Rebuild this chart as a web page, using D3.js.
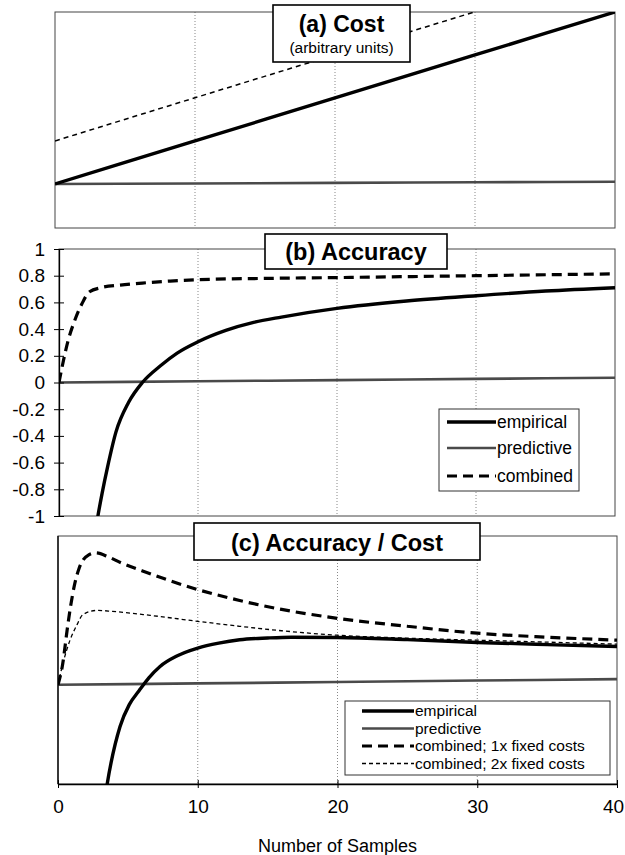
<!DOCTYPE html>
<html>
<head>
<meta charset="utf-8">
<script src="https://cdn.jsdelivr.net/npm/d3@7"></script>
<style>
  body { margin: 0; background: #fff; }
  text { font-family: "Liberation Sans", Arial, Helvetica, sans-serif; }
</style>
</head>
<body>
<div class="svg_area"></div>
<script>
// Chart size
var svgWidth = 625;
var svgHeight = 855;

// ---- data ----
// x ticks shared by all panels
var sampleTicks = [0, 10, 20, 30, 40];
var gridTicks = [10, 20, 30];

// (a) Cost, arbitrary units
var costN = [0, 10, 20, 30, 40];
var costEmpirical = [20.4, 40.3, 60.2, 80.1, 100];
var costPredictive = [20.4, 20.6, 20.9, 21.2, 21.4];
var costCombined = [40.3, 60.3, 80.2, 100.1, 120];

// (b) Accuracy
var accTicks = [-1, -0.8, -0.6, -0.4, -0.2, 0, 0.2, 0.4, 0.6, 0.8, 1];
var accEmpN = [2.5, 2.8, 3.1, 3.5, 4.1, 5, 6, 7.3, 8.5, 10, 12, 14, 16, 20, 25, 30, 35, 40];
var accEmpirical = [-1.2, -1, -0.83, -0.63, -0.37, -0.15, 0, 0.125, 0.22, 0.305, 0.39, 0.45, 0.49, 0.555, 0.61, 0.65, 0.685, 0.71];
var accPredN = [0, 10, 20, 30, 40];
var accPredictive = [0, 0.009, 0.018, 0.027, 0.036];
var accCombN = [0, 0.23, 0.67, 1.1, 1.65, 2.2, 3, 4.4, 6, 8, 10, 15, 20, 25, 30, 35, 40];
var accCombined = [0, 0.12, 0.32, 0.456, 0.59, 0.68, 0.71, 0.73, 0.745, 0.76, 0.77, 0.78, 0.786, 0.793, 0.8, 0.807, 0.814];

// (c) Accuracy / Cost (no y labels in the original)
var ratioEmpN = [3.2, 3.52, 4.44, 5.1, 5.8, 6.5, 7.3, 8.5, 10, 11.5, 13, 15, 16.7, 20, 25, 30, 35, 40];
var ratioEmpirical = [-1.3, -1, -0.42, -0.2, -0.06, 0.07, 0.185, 0.29, 0.37, 0.42, 0.454, 0.472, 0.48, 0.477, 0.455, 0.427, 0.405, 0.386];
var ratioPredN = [0, 10, 20, 30, 40];
var ratioPredictive = [0, 0.014, 0.028, 0.043, 0.057];
var ratioComb1N = [0, 0.3, 0.7, 0.9, 1.2, 1.5, 1.8, 2.2, 2.7, 3.6, 4.5, 6, 8, 10, 13, 16, 20, 25, 30, 35, 40];
var ratioComb1 = [0, 0.18, 0.6, 0.79, 1.02, 1.17, 1.26, 1.31, 1.33, 1.29, 1.23, 1.15, 1.05, 0.96, 0.85, 0.76, 0.67, 0.59, 0.52, 0.48, 0.45];
var ratioComb2N = [0, 0.36, 0.86, 1.34, 1.8, 2.8, 3.9, 6.6, 10, 13, 16, 20, 25, 30, 35, 40];
var ratioComb2 = [0, 0.22, 0.45, 0.6, 0.71, 0.75, 0.74, 0.7, 0.64, 0.59, 0.545, 0.5, 0.47, 0.45, 0.43, 0.41];

var legendB = ["empirical", "predictive", "combined"];
var legendC = ["empirical", "predictive", "combined; 1x fixed costs", "combined; 2x fixed costs"];

// line styles
var styles = {
  empirical: { stroke: "#000", width: 3.4, dash: null },
  predictive: { stroke: "#4a4a4a", width: 2.6, dash: null },
  combinedA: { stroke: "#000", width: 1.5, dash: "5,4" },
  combined: { stroke: "#000", width: 3.2, dash: "10,6" },
  combined2: { stroke: "#000", width: 1.3, dash: "4,3" }
};

var svg = d3.select(".svg_area")
  .append("svg")
  .attr("width", svgWidth)
  .attr("height", svgHeight);

var defs = svg.append("defs");

function zip(xs, ys) {
  return xs.map(function(x, i) { return [x, ys[i]]; });
}

// set up one panel: scales, clip, grid, frame
function makePanel(id, left, right, top, bottom, yDomain) {
  var p = {};
  p.x = d3.scaleLinear().domain([0, 40]).range([left, right]);
  p.y = d3.scaleLinear().domain(yDomain).range([bottom, top]);
  p.top = top; p.bottom = bottom; p.left = left; p.right = right;

  defs.append("clipPath").attr("id", "clip-" + id)
    .append("rect")
    .attr("x", left).attr("y", top)
    .attr("width", right - left).attr("height", bottom - top);

  // dotted grid lines
  svg.append("g").selectAll("line")
    .data(gridTicks)
    .enter()
    .append("line")
    .attr("x1", d => p.x(d)).attr("x2", d => p.x(d))
    .attr("y1", top).attr("y2", bottom)
    .attr("stroke", "#888")
    .attr("stroke-width", 1)
    .attr("stroke-dasharray", "1,2");

  // thin frame
  svg.append("rect")
    .attr("x", left).attr("y", top)
    .attr("width", right - left).attr("height", bottom - top)
    .attr("fill", "none")
    .attr("stroke", "#444")
    .attr("stroke-width", 1);

  p.lines = svg.append("g").attr("clip-path", "url(#clip-" + id + ")");
  return p;
}

function drawLine(p, pts, st) {
  var line = d3.line()
    .x(d => p.x(d[0]))
    .y(d => p.y(d[1]))
    .curve(d3.curveMonotoneX);
  p.lines.append("path")
    .datum(pts)
    .attr("d", line)
    .attr("fill", "none")
    .attr("stroke", st.stroke)
    .attr("stroke-width", st.width)
    .attr("stroke-dasharray", st.dash);
}

function titleBox(x, y, w, h, lines) {
  svg.append("rect")
    .attr("x", x).attr("y", y).attr("width", w).attr("height", h)
    .attr("fill", "#fff").attr("stroke", "#000").attr("stroke-width", 1.6);
  lines.forEach(function(l) {
    svg.append("text")
      .attr("x", x + w / 2).attr("y", l.y)
      .attr("text-anchor", "middle")
      .attr("font-size", l.size)
      .attr("font-weight", l.bold ? "bold" : "normal")
      .text(l.text);
  });
}

function legendBox(x, y, w, h, names, st, rowY, lineX1, lineX2, fontSize) {
  svg.append("rect")
    .attr("x", x).attr("y", y).attr("width", w).attr("height", h)
    .attr("fill", "#fff").attr("stroke", "#333").attr("stroke-width", 1);
  names.forEach(function(n, i) {
    svg.append("line")
      .attr("x1", lineX1).attr("x2", lineX2)
      .attr("y1", rowY[i]).attr("y2", rowY[i])
      .attr("stroke", st[i].stroke)
      .attr("stroke-width", st[i].width)
      .attr("stroke-dasharray", st[i].dash);
    svg.append("text")
      .attr("x", lineX2 + 1).attr("y", rowY[i] + fontSize * 0.35)
      .attr("font-size", fontSize)
      .text(n);
  });
}

// ================= (a) Cost =================
var pa = makePanel("a", 55, 615, 12, 228, [0, 100]);
drawLine(pa, zip(costN, costCombined), styles.combinedA);
drawLine(pa, zip(costN, costPredictive), styles.predictive);
drawLine(pa, zip(costN, costEmpirical), styles.empirical);
titleBox(273, 5, 137, 57, [
  { text: "(a) Cost", size: 23, bold: true, y: 32 },
  { text: "(arbitrary units)", size: 15.5, bold: false, y: 53 }
]);

// ================= (b) Accuracy =================
var pb = makePanel("b", 59, 615, 249, 516, [-1, 1]);
drawLine(pb, zip(accPredN, accPredictive), styles.predictive);
drawLine(pb, zip(accCombN, accCombined), styles.combined);
drawLine(pb, zip(accEmpN, accEmpirical), styles.empirical);

var leftAxis = d3.axisLeft(pb.y)
  .tickValues(accTicks)
  .tickSizeInner(5)
  .tickSizeOuter(0)
  .tickPadding(9)
  .tickFormat(d => String(Math.round(d * 10) / 10));
var gB = svg.append("g")
  .attr("transform", `translate(${pb.left}, 0)`)
  .call(leftAxis);
gB.select(".domain").attr("stroke", "#000").attr("stroke-width", 1.3);
gB.selectAll(".tick line").attr("x1", 5).attr("stroke", "#000");
gB.selectAll(".tick text")
  .attr("font-size", 19)
  .attr("font-family", "Liberation Sans, Arial, sans-serif")
  .attr("fill", "#000");

titleBox(265, 234, 182, 35, [
  { text: "(b) Accuracy", size: 23.5, bold: true, y: 260 }
]);
legendBox(439, 409, 140, 82, legendB,
  [styles.empirical, styles.predictive, styles.combined],
  [422, 448, 476], 447, 496, 17.5);

// ================= (c) Accuracy / Cost =================
var pc = makePanel("c", 58, 617, 536, 784, [-1, 1.5]);
drawLine(pc, zip(ratioPredN, ratioPredictive), styles.predictive);
drawLine(pc, zip(ratioComb2N, ratioComb2), styles.combined2);
drawLine(pc, zip(ratioComb1N, ratioComb1), styles.combined);
drawLine(pc, zip(ratioEmpN, ratioEmpirical), styles.empirical);

// left axis line of (c) without labels
svg.append("line")
  .attr("x1", pc.left).attr("x2", pc.left)
  .attr("y1", pc.top).attr("y2", pc.bottom)
  .attr("stroke", "#000").attr("stroke-width", 1.3);

var bottomAxis = d3.axisBottom(pc.x)
  .tickValues(sampleTicks)
  .tickSizeInner(4)
  .tickSizeOuter(0)
  .tickPadding(12);
var gC = svg.append("g")
  .attr("transform", `translate(0, ${pc.bottom})`)
  .call(bottomAxis);
gC.select(".domain").attr("stroke", "#000").attr("stroke-width", 1.3);
gC.selectAll(".tick line").attr("y1", -4).attr("stroke", "#000");
gC.selectAll(".tick text")
  .attr("font-size", 19)
  .attr("font-family", "Liberation Sans, Arial, sans-serif")
  .attr("fill", "#000")
  .attr("x", d => d === 40 ? -4 : 0);  // keep "40" inside the page

titleBox(194, 523, 286, 37, [
  { text: "(c) Accuracy / Cost", size: 23.5, bold: true, y: 551 }
]);
legendBox(345, 701, 265, 74, legendC,
  [styles.empirical, styles.predictive, styles.combined, styles.combined2],
  [711, 728.5, 746, 763.5], 362, 414, 15.5);

// x axis title
svg.append("text")
  .attr("x", (pc.left + pc.right) / 2)
  .attr("y", 852)
  .attr("text-anchor", "middle")
  .attr("font-size", 18)
  .text("Number of Samples");
</script>
</body>
</html>
